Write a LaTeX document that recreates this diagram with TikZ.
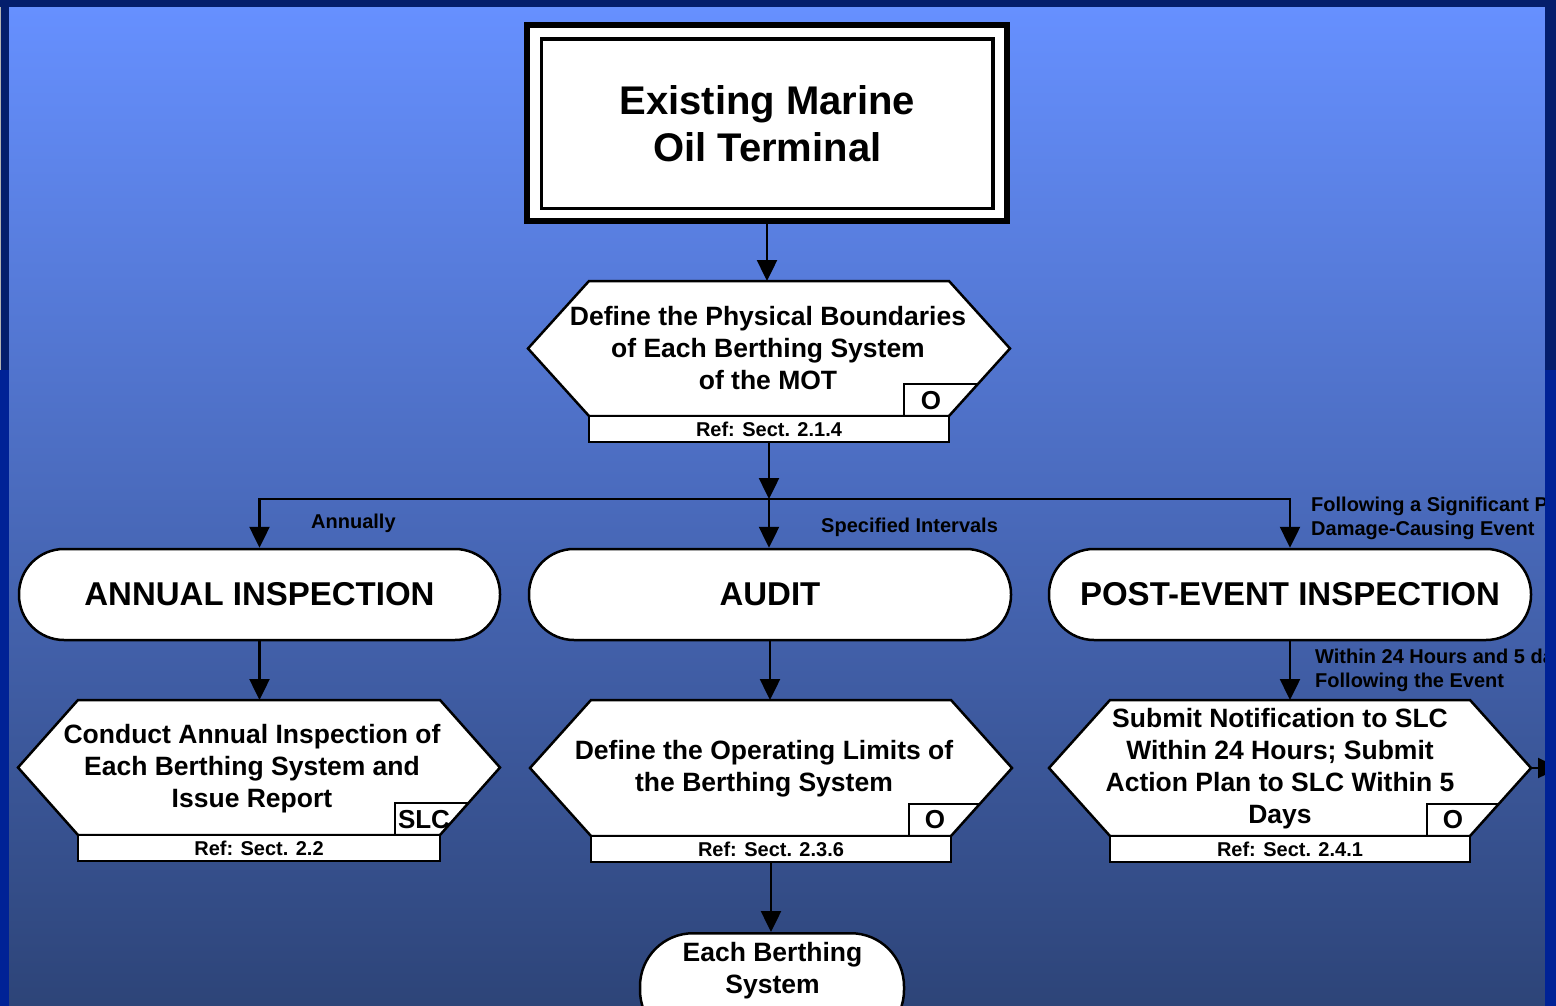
\documentclass[tikz,border=0pt]{standalone}
\usepackage{fontspec}
\setmainfont{Liberation Sans}
\usetikzlibrary{arrows.meta}
\definecolor{bgtop}{RGB}{102,144,255}
\definecolor{bgbot}{RGB}{45,68,120}
\definecolor{framenavy}{RGB}{4,30,108}
\definecolor{frameroyal}{RGB}{0,34,150}
\begin{document}
\begin{tikzpicture}[x=1pt,y=-1pt,
  plain/.style={line width=2.5pt},
  conn/.style={line width=2.5pt, -{Triangle[length=21pt,width=20pt]}},
  shapeline/.style={draw=black, line width=2.5pt, fill=white, line join=miter},
  tagline/.style={draw=black, line width=2.2pt},
  lbl/.style={font=\bfseries\fontsize{20}{24}\selectfont, anchor=west, align=left, inner sep=0},
  hext/.style={font=\bfseries\fontsize{26.5}{32}\selectfont, align=center, inner sep=0},
  reft/.style={draw, line width=2.5pt, fill=white, minimum height=26pt, inner sep=0, font=\bfseries\fontsize{20}{24}\selectfont},
  tagt/.style={font=\bfseries\fontsize{26}{30}\selectfont, inner sep=0},
  term/.style={draw, line width=2.5pt, fill=white, rounded corners=45pt, minimum height=91pt, inner sep=0, font=\bfseries\fontsize{33}{40}\selectfont},
]
\useasboundingbox (0,0) rectangle (1556,1006);
% background
\shade[top color=bgtop, bottom color=bgbot] (9,7) rectangle (1545,1006);

% top box
\node[draw, line width=6pt, fill=white, minimum width=480pt, minimum height=196pt, inner sep=0] (mot) at (767,123) {};
\node[draw, line width=3.5pt, minimum width=451.5pt, minimum height=169.5pt, inner sep=0, align=center,
      font=\bfseries\fontsize{40}{47}\selectfont] (motin) at (767.25,123.75) {Existing Marine\\Oil Terminal};

% hexagon 1
\draw[shapeline] (589,281) -- (949,281) -- (1010,348.5) -- (949,416) -- (589,416) -- (528,348.5) -- cycle;
\coordinate (h1top) at (767,281);
\draw[tagline] (904,416) -- (904,384) -- (978,384);
\node[tagt] (tag1) at (931,401) {O};
\node[hext] (hex1) at (768,348.5) {Define the Physical Boundaries\\of Each Berthing System\\of the MOT};
\node[reft, minimum width=360pt] (ref1) at (769,429) {Ref: Sect. 2.1.4};

% terminators
\node[term, minimum width=481pt] (annual) at (259.5,594.5) {ANNUAL INSPECTION};
\node[term, minimum width=482pt] (audit) at (770,594.5) {AUDIT};
\node[term, minimum width=482pt] (post) at (1290,594.5) {POST-EVENT INSPECTION};

% hexagon 2
\draw[shapeline] (78,700) -- (440,700) -- (500,767.5) -- (440,835) -- (78,835) -- (18,767.5) -- cycle;
\coordinate (h2top) at (259.5,700);
\draw[tagline] (395,835) -- (395,803) -- (468.4,803);
\node[tagt] (tag2) at (424,820) {SLC};
\node[hext] (hex2) at (252,768.5) {Conduct Annual Inspection of\\Each Berthing System and\\Issue Report};
\node[reft, minimum width=362pt] (ref2) at (259,848) {Ref: Sect. 2.2};

% hexagon 3
\draw[shapeline] (591,700) -- (951,700) -- (1012,768) -- (951,836) -- (591,836) -- (530,768) -- cycle;
\coordinate (h3top) at (770,700);
\draw[tagline] (909,836) -- (909,804) -- (979.7,804);
\node[tagt] (tag3) at (935,820) {O};
\node[hext] (hex3) at (764,769) {Define the Operating Limits of\\the Berthing System};
\node[reft, minimum width=360pt] (ref3) at (771,849) {Ref: Sect. 2.3.6};

% hexagon 4
\draw[shapeline] (1110,700) -- (1470,700) -- (1531,768) -- (1470,836) -- (1110,836) -- (1049,768) -- cycle;
\coordinate (h4top) at (1290,700);
\coordinate (h4right) at (1531,768);
\coordinate (offpage) at (1559,768);
\draw[tagline] (1427,836) -- (1427,804) -- (1498.7,804);
\node[tagt] (tag4) at (1453,820) {O};
\node[hext] (hex4) at (1280,769) {Submit Notification to SLC\\Within 24 Hours; Submit\\Action Plan to SLC Within 5\\Days};
\node[reft, minimum width=360pt] (ref4) at (1290,849) {Ref: Sect. 2.4.1};

% bottom terminator
\node[draw, line width=2.5pt, fill=white, rounded corners=53pt, minimum width=264pt, minimum height=110pt, inner sep=0, anchor=north] (each) at (772,932) {};
\node[hext] (eachtxt) at (772.5,971) {Each Berthing\\System};

% connectors
\coordinate (busM) at (769,499);
\coordinate (busL) at (259.5,499);
\coordinate (busR) at (1290,499);
\draw[conn] (mot.south) -- (h1top);
\draw[conn] (ref1.south) -- (busM);
\draw[plain] (busL) -- (busR);
\draw[conn] (busM) -- (busM |- audit.north);
\draw[conn] (busM) -| (annual.north);
\draw[conn] (busM) -| (post.north);
\draw[conn] (annual.south) -- (h2top);
\draw[conn] (audit.south) -- (h3top);
\draw[conn] (post.south) -- (h4top);
\draw[conn] (ref3.south) -- (ref3.south |- each.north);
\draw[conn] (h4right) -- (offpage);

% labels
\node[lbl] (lannual) at (311,523) {Annually};
\node[lbl] (lspec) at (821,527) {Specified Intervals};
\node[lbl] (lfollow) at (1311,518) {Following a Significant Potentially\\Damage-Causing Event};
\node[lbl] (lwithin) at (1315,670) {Within 24 Hours and 5 days\\Following the Event};

% frame
\fill[framenavy] (0,0) rectangle (1556,7);
\fill[framenavy] (0,0) rectangle (9,370);
\fill[frameroyal] (0,370) rectangle (9,1006);
\fill[framenavy] (1545,0) rectangle (1556,370);
\fill[frameroyal] (1545,370) rectangle (1556,1006);
\draw[gray!60, line width=1pt] (0.5,7) -- (0.5,370);
\end{tikzpicture}
\end{document}
